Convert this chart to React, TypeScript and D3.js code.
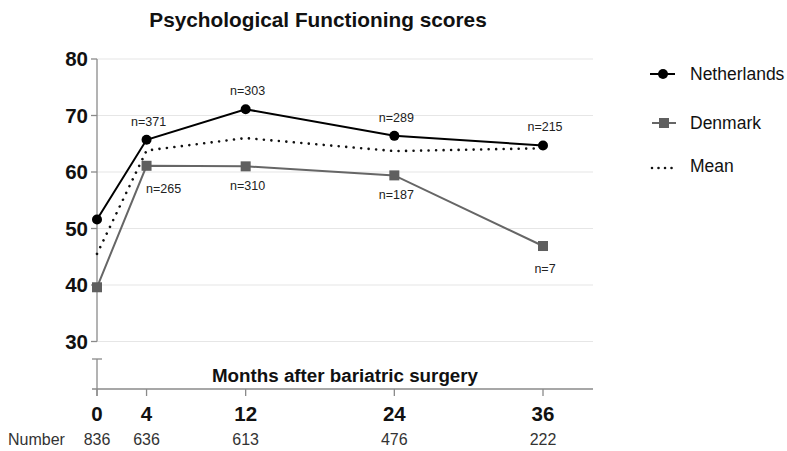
import React from "react";
import * as d3 from "d3";

const months = [0, 4, 12, 24, 36];
const netherlands = [51.6, 65.7, 71.1, 66.4, 64.7];
const denmark = [39.6, 61.1, 61.0, 59.4, 46.9];
const meanScores = [45.5, 63.8, 66.0, 63.7, 64.2];
const nlCounts = ["", "n=371", "n=303", "n=289", "n=215"];
const dkCounts = ["", "n=265", "n=310", "n=187", "n=7"];
const totals = [836, 636, 613, 476, 222];
const yTicks = [30, 40, 50, 60, 70, 80];

const W = 787;
const H = 451;
const FONT = "'Liberation Sans', Arial, Helvetica, sans-serif";

export default function App() {
  const x = d3.scaleLinear().domain([0, 36]).range([97, 543]);
  const y = d3.scaleLinear().domain([30, 80]).range([341.5, 59]);
  const gridRight = 593;
  const xAxisY = 389;

  const line = d3
    .line<number>()
    .x((_, i) => x(months[i]))
    .y((d) => y(d));

  const nlColor = "#000";
  const dkColor = "#666";
  const axisColor = "#8a8a8a";
  const dotDash = "0.01,7.5";

  return (
    <svg
      width={W}
      height={H}
      style={{ position: "absolute", left: 0, top: 0, background: "#fff" }}
      fontFamily={FONT}
    >
      <rect width={W} height={H} fill="#fff" />
      <text x={318} y={27} textAnchor="middle" fontSize={20.8} fontWeight="bold" fill="#111">
        Psychological Functioning scores
      </text>

      {/* grid */}
      {yTicks.map((t) => (
        <line key={t} x1={x(0)} x2={gridRight} y1={y(t)} y2={y(t)} stroke="#e6e6e6" strokeWidth={1.2} />
      ))}

      {/* y axis (upper segment) */}
      <line x1={x(0)} x2={x(0)} y1={y(80)} y2={y(30)} stroke={axisColor} strokeWidth={1.3} />
      {yTicks.map((t) => (
        <g key={"yt" + t}>
          <line x1={x(0) - 6} x2={x(0)} y1={y(t)} y2={y(t)} stroke={axisColor} strokeWidth={1.3} />
          <text x={88} y={y(t)} dy="0.36em" textAnchor="end" fontSize={20.5} fontWeight="bold" fill="#111">
            {t}
          </text>
        </g>
      ))}

      {/* y axis (lower segment after break) */}
      <line x1={x(0) - 5} x2={x(0) + 5} y1={359} y2={359} stroke={axisColor} strokeWidth={1.3} />
      <line x1={x(0)} x2={x(0)} y1={359} y2={xAxisY + 7} stroke={axisColor} strokeWidth={1.3} />

      {/* x axis */}
      <line x1={x(0) - 5} x2={gridRight} y1={xAxisY} y2={xAxisY} stroke={axisColor} strokeWidth={1.3} />
      {months.map((m, i) => (
        <g key={"xt" + m}>
          <line x1={x(m)} x2={x(m)} y1={xAxisY} y2={xAxisY + 7} stroke={axisColor} strokeWidth={1.3} />
          <text x={x(m)} y={420.5} textAnchor="middle" fontSize={20.5} fontWeight="bold" fill="#111">
            {m}
          </text>
          <text x={x(m)} y={445} textAnchor="middle" fontSize={16} fill="#333">
            {totals[i]}
          </text>
        </g>
      ))}
      <text x={8} y={445} fontSize={16} fill="#333">
        Number
      </text>
      <text x={345} y={382} textAnchor="middle" fontSize={18.8} fontWeight="bold" fill="#111">
        Months after bariatric surgery
      </text>

      {/* series */}
      <path d={line(meanScores) || ""} fill="none" stroke="#111" strokeWidth={2.6} strokeDasharray={dotDash} strokeLinecap="round" />
      <path d={line(denmark) || ""} fill="none" stroke={dkColor} strokeWidth={2} />
      <path d={line(netherlands) || ""} fill="none" stroke={nlColor} strokeWidth={2} />

      {denmark.map((v, i) => (
        <rect key={"dk" + i} x={x(months[i]) - 5} y={y(v) - 5} width={10} height={10} fill="#5f5f5f" />
      ))}
      {netherlands.map((v, i) => (
        <circle key={"nl" + i} cx={x(months[i])} cy={y(v)} r={5} fill={nlColor} />
      ))}

      {/* sample sizes */}
      {netherlands.map((v, i) =>
        nlCounts[i] ? (
          <text key={"nll" + i} x={x(months[i]) + 2} y={y(v) - 14} textAnchor="middle" fontSize={12.5} fill="#222">
            {nlCounts[i]}
          </text>
        ) : null
      )}
      {denmark.map((v, i) =>
        dkCounts[i] ? (
          <text
            key={"dkl" + i}
            x={x(months[i]) + (i === 1 ? 17 : 2)}
            y={y(v) + (i === 1 || i === 4 ? 27 : 24)}
            textAnchor="middle"
            fontSize={12.5}
            fill="#222"
          >
            {dkCounts[i]}
          </text>
        ) : null
      )}

      {/* legend */}
      <g>
        <line x1={650} x2={675} y1={74} y2={74} stroke={nlColor} strokeWidth={2} />
        <circle cx={663} cy={74} r={5} fill={nlColor} />
        <text x={690} y={74} dy="0.35em" fontSize={17.5} fill="#111">Netherlands</text>

        <line x1={652} x2={676} y1={123} y2={123} stroke={dkColor} strokeWidth={2} />
        <rect x={659} y={118} width={10} height={10} fill="#5f5f5f" />
        <text x={690} y={123} dy="0.35em" fontSize={17.5} fill="#111">Denmark</text>

        <line x1={652} x2={676} y1={168} y2={168} stroke="#111" strokeWidth={2.6} strokeDasharray="0.01,6.5" strokeLinecap="round" />
        <text x={690} y={166} dy="0.35em" fontSize={17.5} fill="#111">Mean</text>
      </g>
    </svg>
  );
}
